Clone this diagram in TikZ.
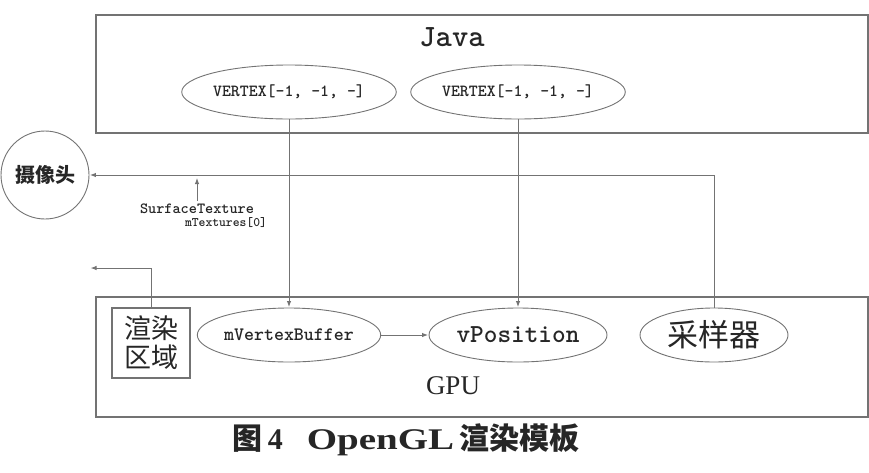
\documentclass[tikz,border=0pt]{standalone}
\usepackage{fontspec}
\setmainfont{Liberation Serif}
\newfontfamily\cjk{Noto Sans CJK SC}
\usetikzlibrary{arrows.meta,shapes.geometric,positioning}
\colorlet{linegray}{black!55}
\colorlet{textgray}{black!85}

\begin{document}
\begin{tikzpicture}[x=1pt,y=-1pt,->,>={Latex[length=6pt,width=4.5pt]},shorten >=0.5pt,
  every edge/.style={draw=linegray,line width=1pt},
  layer box/.style={draw=linegray,line width=1.6pt,minimum width=772pt,inner sep=0pt},
  main node/.style={ellipse,draw=linegray,line width=0.9pt,minimum height=54pt,inner sep=0pt,text=textgray},
  code/.style={font=\ttfamily\bfseries\fontsize{#1}{#1}\selectfont},
  cjk text/.style={font=\cjk\fontsize{#1}{#1}\selectfont}]
                \useasboundingbox (0,0) rectangle (869,472);

                \node[layer box,minimum height=118pt] (java) at (482,74) {};
                \node[code=31,text=textgray] (javalbl) at (452,37) {Java};
                \node[main node,minimum width=194pt,code=17] (vert1) at (289,92) {VERTEX[-1, -1, -]};
                \node[main node,minimum width=195pt,code=17] (vert2) at (518,92) {VERTEX[-1, -1, -]};

                \node[circle,draw=linegray,line width=0.9pt,minimum size=88pt,inner sep=0pt,text=textgray,
                  font=\cjk\bfseries\fontsize{20}{20}\selectfont] (cam) at (45,175) {摄像头};
                \node[code=15.5,text=textgray] (tex) at (197,209) {SurfaceTexture};
                \node[code=13,text=textgray] (texid) [below right=-3pt and -76pt of tex] {mTextures[0]};
                \coordinate (outL) at (90,268);

                \node[layer box,minimum height=120pt] (gpu) at (482,357) {};
                \node[draw=linegray,line width=1.2pt,minimum width=78pt,minimum height=70pt,inner sep=0pt,align=center,
                  text=textgray,font=\cjk\fontsize{27}{29}\selectfont] (render) at (151,343) {渲染\\区域};
                \node[main node,minimum width=179pt,code=19] (buf) at (289,335) {mVertexBuffer};
                \node[main node,minimum width=178pt,code=26] (pos) at (518,335) {vPosition};
                \node[main node,minimum width=148pt,cjk text=31] (sampler) at (714,335) {采样器};
                \node[font=\fontsize{27}{27}\selectfont,text=textgray] (gpulbl) at (453,386) {GPU};

                \node[font=\fontsize{30}{30}\selectfont\bfseries,text=textgray] (caption) at (406,440)
                  {{\cjk 图}\,4\hspace{24pt}\scalebox{1.3}[1]{OpenGL}\,{\cjk 渲染模板}};

                \path
                    (vert1) edge (buf)
                    (vert2) edge (pos)
                    (buf) edge (pos)
                    (sampler.north) edge[to path={|- (\tikztotarget)}] (cam)
                    (tex.north) edge[shorten >=3pt] (tex.north |- cam.east)
                    (render.north) edge[to path={|- (\tikztotarget)}] (outL)
                ;

            \end{tikzpicture}
\end{document}
